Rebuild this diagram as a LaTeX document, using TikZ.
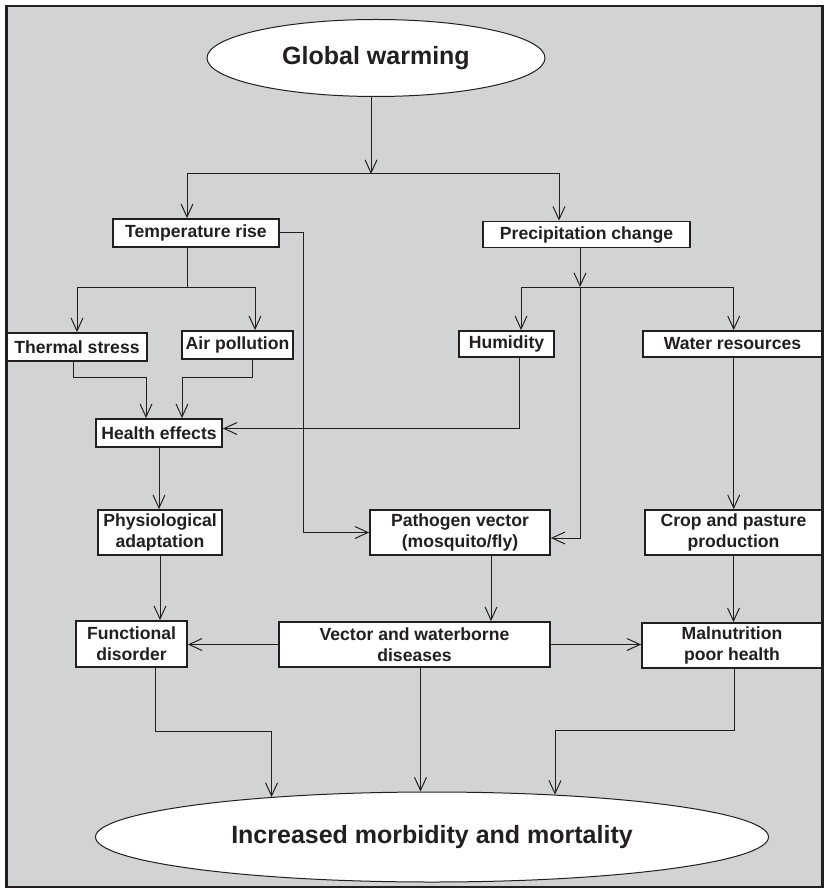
\documentclass[tikz,border=0pt]{standalone}
\usepackage{fontspec}
\setmainfont{Liberation Sans}
\usetikzlibrary{arrows.meta,shapes.geometric}
\definecolor{bggray}{RGB}{209,211,212}
\definecolor{ink}{RGB}{35,31,32}
\tikzset{
  box/.style={draw=ink, line width=1.8pt, fill=white, inner sep=0pt, align=center,
    font=\fontsize{17.6}{21}\selectfont\bfseries, text=ink},
  oval/.style={ellipse, draw=ink, line width=1pt, fill=white, inner sep=0pt,
    font=\fontsize{25}{30}\selectfont\bfseries, text=ink},
  arr/.style={draw=ink, line width=1pt, -{Straight Barb[length=13pt,width=12pt,line width=1pt]}},
  ln/.style={draw=ink, line width=1pt},
}
\begin{document}
\begin{tikzpicture}[x=1pt,y=-1pt]
\useasboundingbox (0,0) rectangle (824,890);
\fill[bggray] (6,6) rectangle (822,887);
\draw[ink, line width=2.5pt] (6.5,6) rectangle (822.5,887);
\draw[ink, line width=3.5pt] (6.5,5) -- (6.5,888);

% nodes
\node[oval, minimum width=338pt, minimum height=77pt] (gw) at (376,58) {Global warming};
\node[box, minimum width=166pt, minimum height=28pt] (temp) at (196,233) {Temperature rise};
\node[box, minimum width=207pt, minimum height=26pt] (precip) at (586.5,234.5) {Precipitation change};
\node[box, minimum width=140pt, minimum height=28pt] (thermal) at (77,347) {Thermal stress};
\node[box, minimum width=111pt, minimum height=28pt] (air) at (237.5,345) {Air pollution};
\node[box, minimum width=95pt, minimum height=26pt] (humid) at (506.5,344) {Humidity};
\node[box, minimum width=179pt, minimum height=26pt] (water) at (732.5,344) {Water resources};
\node[box, minimum width=126pt, minimum height=28pt] (health) at (159,433) {Health effects};
\node[box, minimum width=124pt, minimum height=45pt] (physio) at (160,532.5) {Physiological\\adaptation};
\node[box, minimum width=180pt, minimum height=45pt] (patho) at (460,532.5) {Pathogen vector\\(mosquito/fly)};
\node[box, minimum width=177pt, minimum height=45pt] (crop) at (733.5,532.5) {Crop and pasture\\production};
\node[box, minimum width=111pt, minimum height=46pt] (func) at (131.5,644) {Functional\\disorder};
\node[box, minimum width=271pt, minimum height=45pt] (vect) at (414.5,644.5) {Vector and waterborne\\diseases};
\node[box, minimum width=180pt, minimum height=45pt] (maln) at (732,645.5) {Malnutrition\\poor health};
\node[oval, minimum width=673pt, minimum height=90pt] (mort) at (432,837) {Increased morbidity and mortality};

% junctions
\coordinate (j1) at (371,174);
\coordinate (j2) at (187,287);
\coordinate (j3) at (580,287);

% connectors
\draw[arr] (j1 |- gw.south) -- (j1);
\draw[arr] (j1) -| ([xshift=-9pt]temp.north);
\draw[arr] (j1) -| ([xshift=-27.5pt]precip.north);

\draw[arr] (temp.east) -- ++(24,0) |- (patho.west);

\draw[ln] (j2 |- temp.south) -- (j2);
\draw[arr] (j2) -| (thermal.north);
\draw[arr] (j2) -| ([xshift=17.5pt]air.north);

\draw[arr] ([xshift=-4pt]thermal.south) -- ++(0,16) -| ([xshift=-13pt]health.north);
\draw[arr] ([xshift=14.5pt]air.south) -- ++(0,18) -| ([xshift=23pt]health.north);
\draw[arr] ([xshift=13pt]humid.south) |- ([yshift=4.5pt]health.east);

\draw[arr] (health.south) -- (health.south |- physio.north);

\draw[arr] ([xshift=-6.5pt]precip.south) -- (j3);
\draw[arr] (j3) -| ([xshift=14.5pt]humid.north);
\draw[arr] (j3) -| ([xshift=1.2pt]water.north);
\draw[arr] (j3) |- ([yshift=-5.5pt]patho.east);

\draw[arr] ([xshift=1.2pt]water.south) -- ([xshift=1.2pt]water.south |- crop.north);
\draw[arr] (crop.south) -- (crop.south |- maln.north);

\draw[arr] ([xshift=31pt]patho.south) -- ([xshift=31pt]patho.south |- vect.north);
\draw[arr] (physio.south) -- (physio.south |- func.north);

\draw[arr] (vect.west) -- (vect.west -| func.east);
\draw[arr] (vect.east) -- (vect.east -| maln.west);

\draw[arr] ([xshift=24pt]func.south) -- ++(0,64) -| (mort.166.5);
\draw[arr] ([xshift=6pt]vect.south) -- ([xshift=6pt]vect.south |- mort.north);
\draw[arr] ([xshift=2pt]maln.south) -- ++(0,61.5) -| (mort.19.6);
\end{tikzpicture}
\end{document}
